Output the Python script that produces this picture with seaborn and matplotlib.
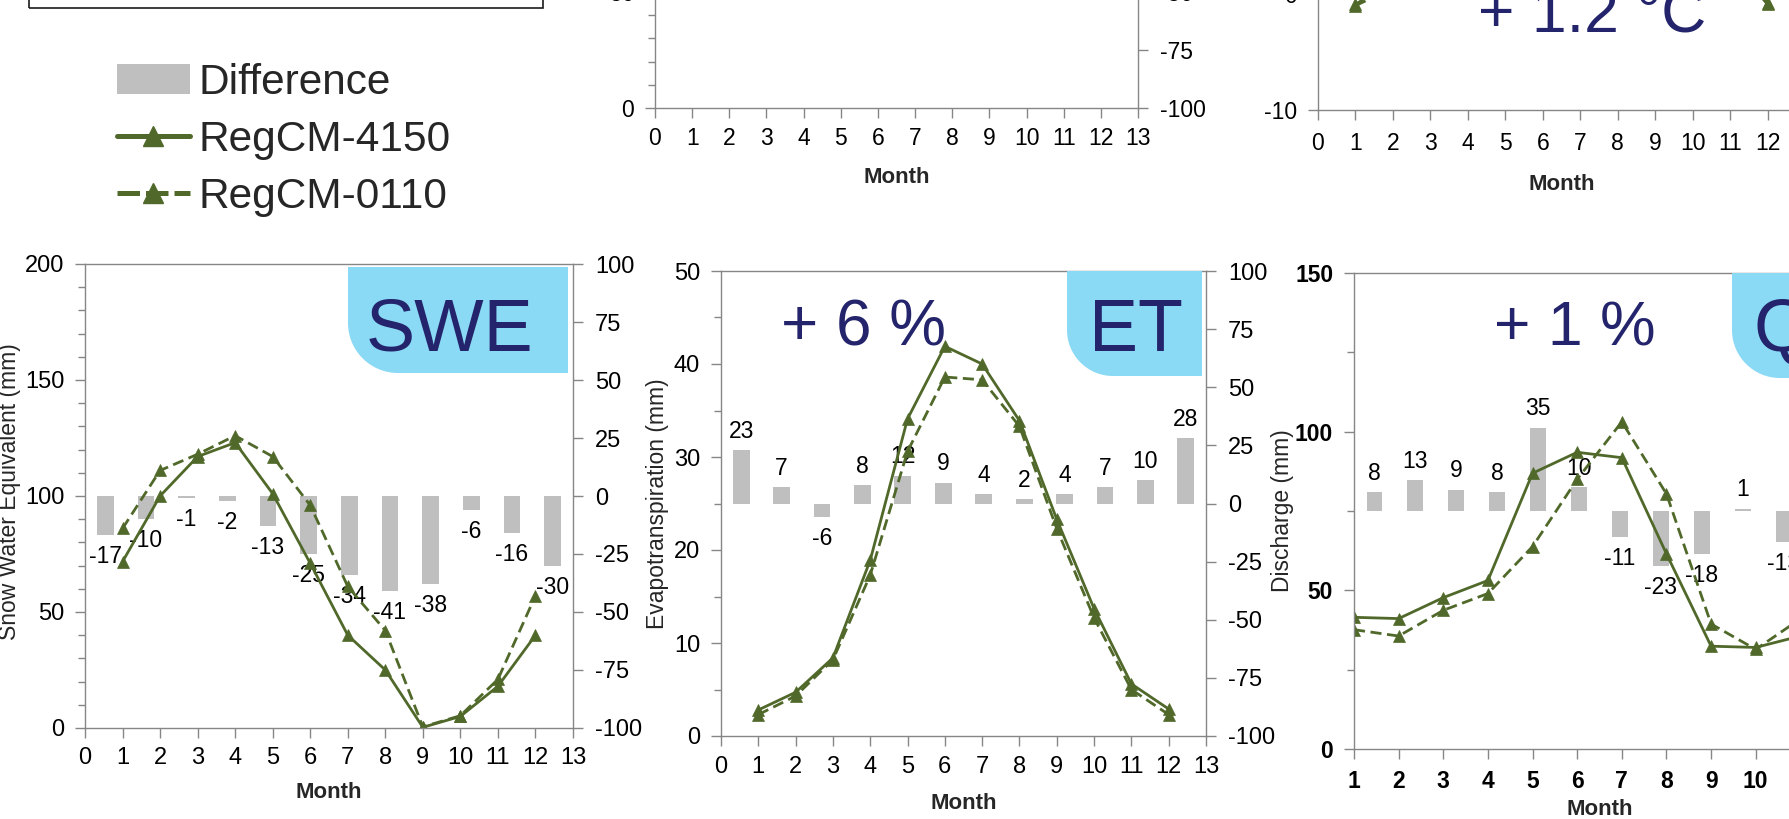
import matplotlib
matplotlib.use("Agg")
import matplotlib.pyplot as plt
import numpy as np
import seaborn as sns
from matplotlib.path import Path
from matplotlib.patches import PathPatch, Rectangle, Patch
from matplotlib.lines import Line2D

# ------------------------------------------------------------------ data
months = [1, 2, 3, 4, 5, 6, 7, 8, 9, 10, 11, 12]
month_ticks = list(range(0, 14))
q_months = [1, 2, 3, 4, 5, 6, 7, 8, 9, 10, 11]
q_month_ticks = list(range(1, 13))

legend_labels = ["Difference", "RegCM-4150", "RegCM-0110"]

# Snow water equivalent (mm) and difference (%)
swe_4150 = [71.7, 100, 117, 123, 101, 71, 40, 25, 0.3, 5.0, 18, 40]
swe_0110 = [86, 111, 118, 126, 117, 96, 61, 42, 0.5, 5.3, 21, 57]
swe_diff = [-17, -10, -1, -2, -13, -25, -34, -41, -38, -6, -16, -30]

# Evapotranspiration (mm) and difference (%)
et_4150 = [2.8, 4.7, 8.4, 18.9, 34.1, 41.9, 40.0, 33.9, 23.3, 13.7, 5.6, 2.9]
et_0110 = [2.3, 4.3, 8.2, 17.3, 30.6, 38.6, 38.3, 33.3, 22.3, 12.7, 5.0, 2.3]
et_diff = [23, 7, -6, 8, 12, 9, 4, 2, 4, 7, 10, 28]

# Discharge (mm) and difference (%)
q_4150 = [41.5, 41.1, 47.7, 53.1, 86.9, 93.5, 91.8, 61.5, 32.4, 32.0, 35.6]
q_0110 = [37.6, 35.6, 43.7, 49.0, 63.8, 85.0, 103.1, 80.4, 39.4, 31.4, 41.0]
q_diff = [8, 13, 9, 8, 35, 10, -11, -23, -18, 1, -13]

# Temperature (deg C) - only the ends are inside the visible crop
t_4150 = [-0.9, 1.2, 5.5, 9.5, 13.5, 17.0, 19.0, 18.5, 14.5, 10.0, 4.0, -0.8]
t_0110 = [-1.0, 0.5, 4.5, 8.0, 12.5, 15.5, 18.0, 17.5, 13.5, 8.5, 3.0, -0.9]

swe_title, et_title, q_title = "SWE", "ET", "Q"
et_change, q_change, t_change = "+ 6 %", "+ 1 %", "+ 1.2 °C"
swe_ylabel = "Snow Water Equivalent (mm)"
et_ylabel = "Evapotranspiration (mm)"
q_ylabel = "Discharge (mm)"
xlabel = "Month"

# ------------------------------------------------------------------ style
GREEN = "#50692A"
GRAY_BAR = "#BFBFBF"
SPINE = "#868686"
BLUE = "#8AD9F5"
NAVY = "#23246B"

TICK_FS = 17
LAB_FS = 16.5
DATA_FS = 16.5

W, H = 1790, 819
sns.set_style("white")
plt.rcParams["font.family"] = ["Liberation Sans", "DejaVu Sans"]
plt.rcParams["axes.unicode_minus"] = False

fig = plt.figure(figsize=(W / 100, H / 100), dpi=100)


def px_axes(x0, x1, ytop, ybot):
    return fig.add_axes([x0 / W, 1 - ybot / H, (x1 - x0) / W, (ybot - ytop) / H])


def setup(ax, xlim, xticks, ylim, ymaj, ymin, fs, bold=False, xpad=8, xlabpad=12):
    ax.set_xlim(*xlim)
    ax.set_ylim(*ylim)
    ax.set_xticks(xticks)
    ax.set_yticks(np.arange(ylim[0], ylim[1] + 0.001, ymaj))
    if ymin:
        ax.set_yticks(np.arange(ylim[0], ylim[1] + 0.001, ymin), minor=True)
    for s in ax.spines.values():
        s.set_visible(True)
        s.set_color(SPINE)
        s.set_linewidth(1.0)
    ax.tick_params(axis="x", which="major", direction="out", length=7, width=1,
                   color=SPINE, labelsize=fs, pad=xpad, bottom=True, top=False,
                   labelcolor="black")
    ax.tick_params(axis="y", which="major", direction="out", length=7, width=1,
                   color=SPINE, labelsize=fs, pad=8, left=True, right=False,
                   labelcolor="black")
    ax.tick_params(axis="y", which="minor", direction="out", length=5, width=1,
                   color=SPINE, left=True, right=False)
    if bold:
        plt.setp(ax.get_xticklabels() + ax.get_yticklabels(), fontweight="bold")
    ax.set_xlabel(xlabel, fontsize=16, fontweight="bold", labelpad=xlabpad)
    ax.grid(False)


def twin(ax, fs=TICK_FS):
    ax2 = ax.twinx()
    ax2.set_ylim(-100, 100)
    ax2.set_yticks(np.arange(-100, 101, 25))
    ax2.tick_params(axis="y", direction="out", length=7, width=1, color=SPINE,
                    labelsize=fs, pad=9, labelcolor="black")
    for s in ax2.spines.values():
        s.set_visible(False)
    ax2.grid(False)
    ax.set_zorder(ax2.get_zorder() + 1)
    ax.patch.set_visible(False)
    return ax2


def bars(ax2, pos, vals, rel_width):
    sns.barplot(x=pos, y=vals, native_scale=True, orient="x", width=rel_width,
                color=GRAY_BAR, saturation=1, errorbar=None, ax=ax2,
                linewidth=0, edgecolor="none")
    ax2.set_ylim(-100, 100)
    ax2.set_ylabel("")
    ax2.set_xlabel("")
    for p, v in zip(pos, vals):
        ax2.annotate(str(v), (p, v), xytext=(0, 13.5 if v > 0 else -15.5),
                     textcoords="offset points", ha="center", va="center",
                     fontsize=DATA_FS, color="black", annotation_clip=False)


def lines(ax, x, y1, y2):
    sns.lineplot(x=x, y=y1, ax=ax, color=GREEN, linewidth=2.0, marker="^",
                 markersize=8.5, markeredgecolor=GREEN, markeredgewidth=0.5)
    sns.lineplot(x=x, y=y2, ax=ax, color=GREEN, linewidth=2.0,
                 linestyle=(0, (4, 2)), marker="^", markersize=8.5,
                 markeredgecolor=GREEN, markeredgewidth=0.5)
    ax.set_ylabel("")


def label_box(x0, x1, ytop, ybot, r):
    k = 0.5523
    verts = [(x1, ytop), (x0, ytop), (x0, ybot - r), (x0, ybot - r + k * r),
             (x0 + r - k * r, ybot), (x0 + r, ybot), (x1, ybot), (x1, ytop)]
    codes = [Path.MOVETO, Path.LINETO, Path.LINETO, Path.CURVE4, Path.CURVE4,
             Path.CURVE4, Path.LINETO, Path.CLOSEPOLY]
    verts = [(x / W, 1 - y / H) for x, y in verts]
    fig.add_artist(PathPatch(Path(verts, codes), transform=fig.transFigure,
                             facecolor=BLUE, edgecolor="none", zorder=3))


def ftext(x, y, s, size, **kw):
    fig.text(x / W, 1 - y / H, s, fontsize=size, color=NAVY, va="baseline",
             zorder=4, **kw)


# ------------------------------------------------------------------ top-left frame
fig.add_artist(Rectangle((29 / W, 1 - 8 / H), (543 - 29) / W, 0.5,
                         transform=fig.transFigure, fill=False,
                         edgecolor="#1a1a1a", linewidth=1.2))

# ------------------------------------------------------------------ top-middle panel
ax_p = px_axes(655, 1138, -356, 108)
ax_p2 = twin(ax_p, fs=16.5)
setup(ax_p, (0, 13), month_ticks, (0, 200), 50, 10, 16.5, xpad=7, xlabpad=12)

# ------------------------------------------------------------------ top-right panel
ax_t = px_axes(1318, 1805, -354, 110)
lines(ax_t, months, t_4150, t_0110)
setup(ax_t, (0, 13), month_ticks, (-10, 30), 10, None, 16.5, xpad=8.5, xlabpad=14)
ftext(1592, 32, t_change, 45, ha="center")

# ------------------------------------------------------------------ SWE panel
ax_s = px_axes(85, 573, 264, 728)
ax_s2 = twin(ax_s)
pos12 = [(i + 0.5) * 13 / 12 for i in range(12)]
bars(ax_s2, pos12, swe_diff, 0.415)
lines(ax_s, months, swe_4150, swe_0110)
setup(ax_s, (0, 13), month_ticks, (0, 200), 50, 10, TICK_FS, xpad=6.5, xlabpad=9.5)
ax_s.set_ylabel(swe_ylabel, fontsize=LAB_FS, va="center")
ax_s.yaxis.set_label_coords(-0.1537, 0.51)
label_box(348, 568, 267, 373, 50)
ftext(449, 350, swe_title, 53, ha="center")

# ------------------------------------------------------------------ ET panel
ax_e = px_axes(721, 1206, 271, 736)
ax_e2 = twin(ax_e)
bars(ax_e2, pos12, et_diff, 0.415)
lines(ax_e, months, et_4150, et_0110)
setup(ax_e, (0, 13), month_ticks, (0, 50), 10, 5, TICK_FS, xpad=7.5, xlabpad=11)
ax_e.set_ylabel(et_ylabel, fontsize=LAB_FS, va="center")
ax_e.yaxis.set_label_coords(-0.130, 0.5)
label_box(1067, 1202, 271, 376, 46)
ftext(1136, 351, et_title, 53, ha="center")
ftext(864, 345, et_change, 46, ha="center")

# ------------------------------------------------------------------ Q panel
ax_q = px_axes(1354, 1845, 273, 749)
ax_q2 = twin(ax_q)
posq = [1 + (i + 0.5) * 11 / 12 for i in range(len(q_diff))]
bars(ax_q2, posq, q_diff, 0.387)
lines(ax_q, q_months, q_4150, q_0110)
setup(ax_q, (1, 12), q_month_ticks, (0, 150), 50, 25, 16.5, bold=True,
      xpad=8, xlabpad=4.5)
ax_q.set_ylabel(q_ylabel, fontsize=LAB_FS, va="center")
ax_q.yaxis.set_label_coords(-0.1466, 0.5)
label_box(1732, 1830, 273, 378, 48)
ftext(1754, 351, q_title, 53, ha="left")
ftext(1575, 345, q_change, 45, ha="center")

# ------------------------------------------------------------------ legend
handles = [
    Patch(facecolor=GRAY_BAR, edgecolor="none"),
    Line2D([], [], color=GREEN, lw=3.6, marker="^", markersize=15, mec=GREEN),
    Line2D([], [], color=GREEN, lw=3.6, ls=(0, (4.5, 1.2)), marker="^",
           markersize=15, mec=GREEN),
]
fig.legend(handles, legend_labels, loc="upper left",
           bbox_to_anchor=(117 / W, 1 - 63 / H), frameon=False, fontsize=30.5,
           handlelength=1.72, handletextpad=0.2, labelspacing=0.40,
           borderpad=0, borderaxespad=0)

fig.savefig("out.png", dpi=100)
